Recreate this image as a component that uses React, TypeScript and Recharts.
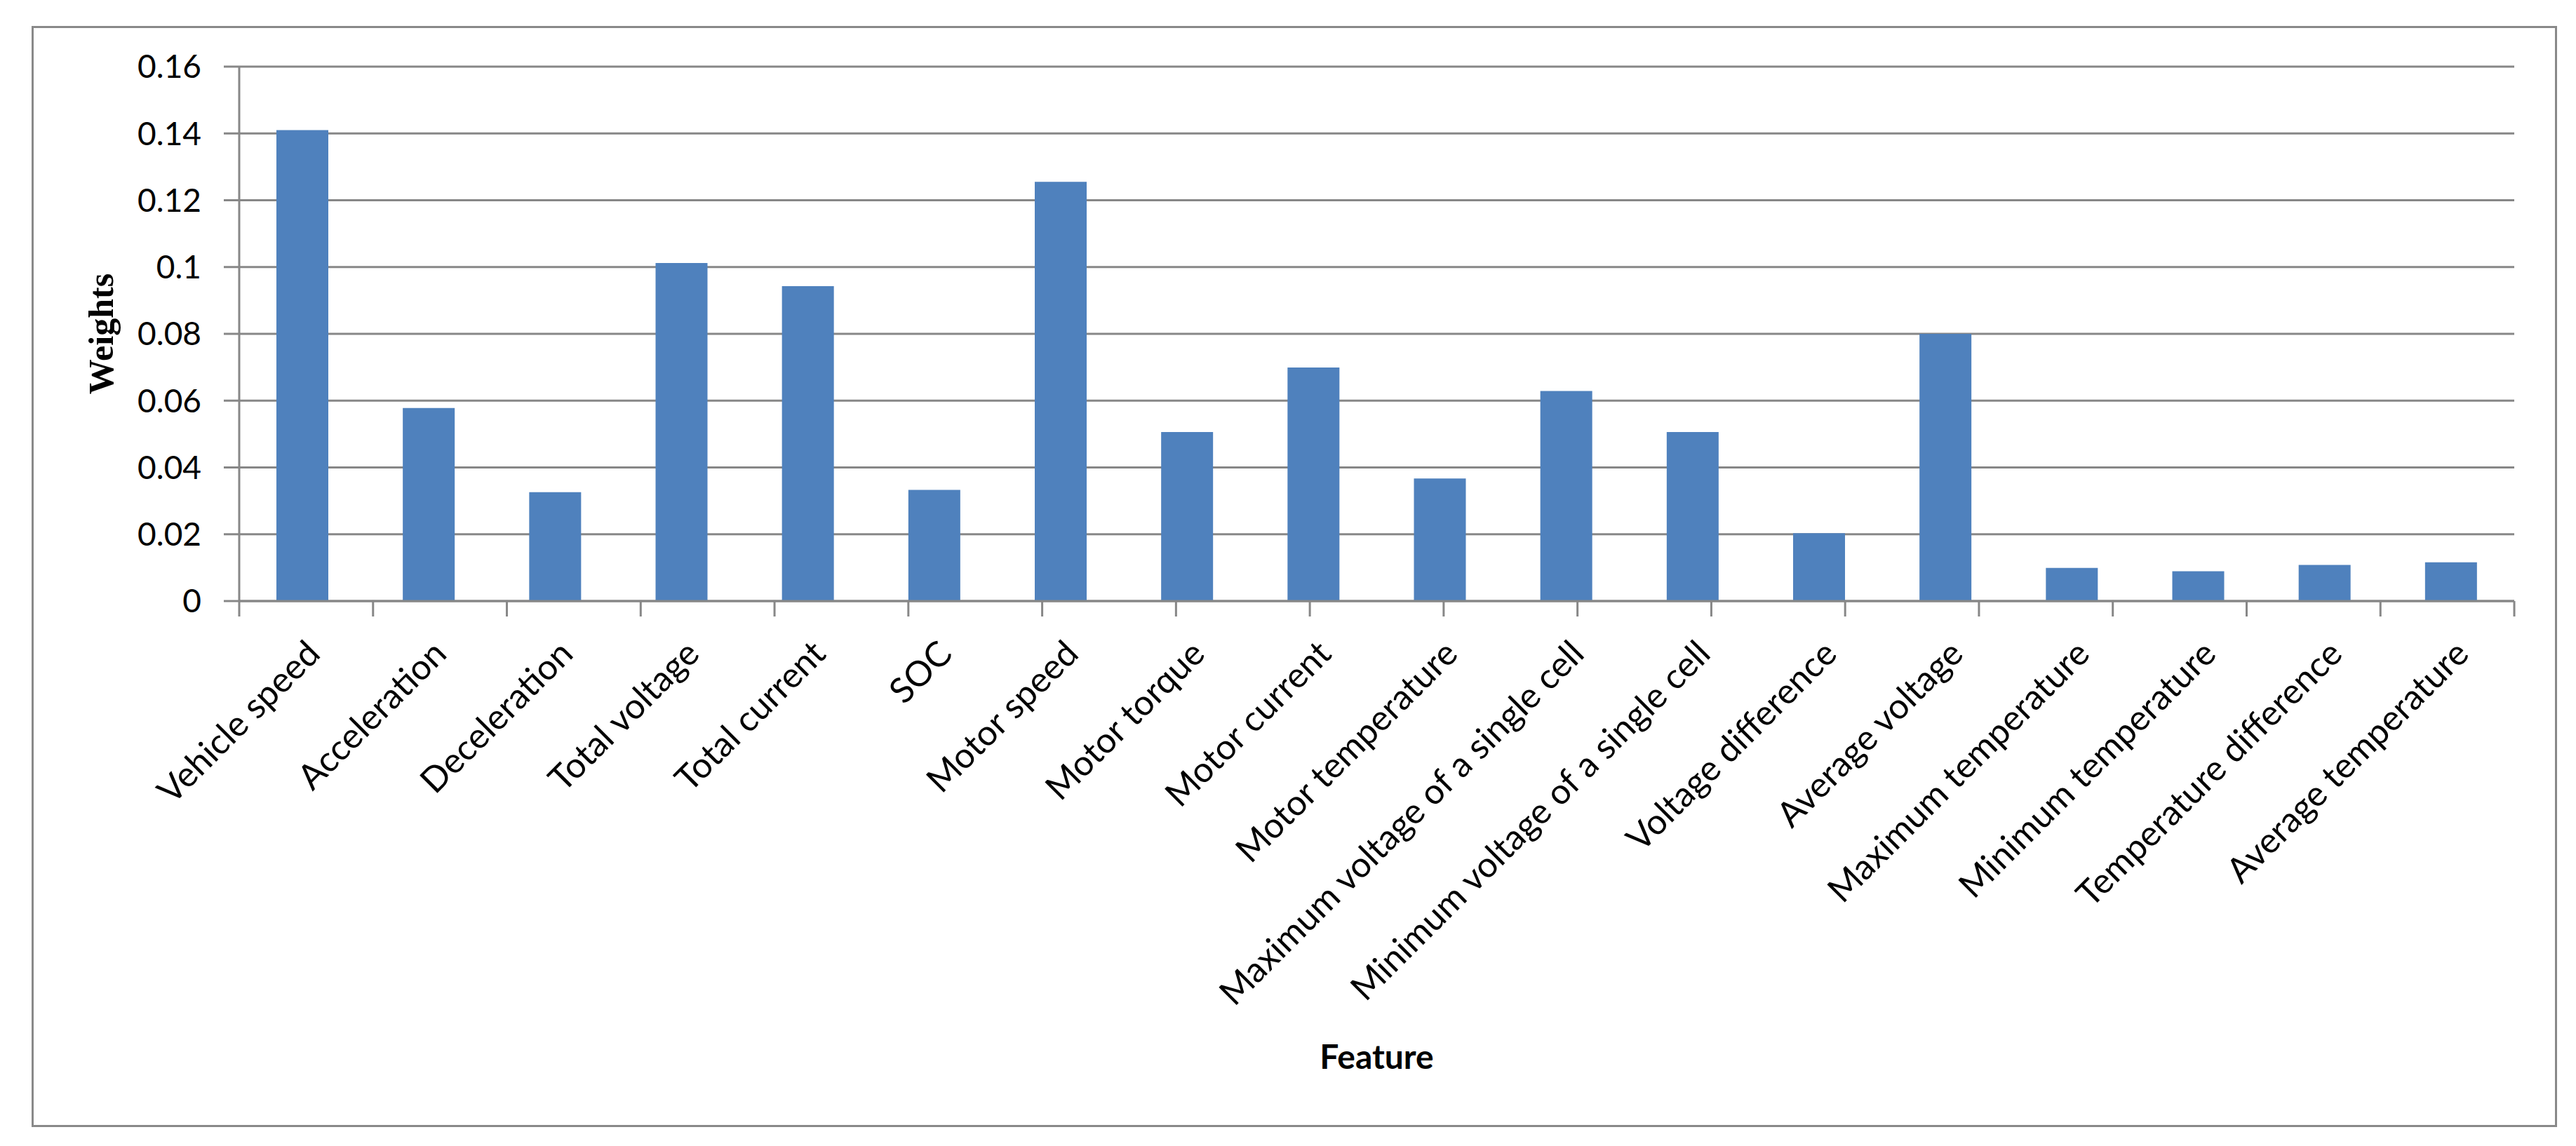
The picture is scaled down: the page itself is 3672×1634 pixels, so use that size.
import React from "react";
import { Bar, BarChart, CartesianGrid, XAxis, YAxis } from "recharts";

const features = [
  "Vehicle speed",
  "Acceleration",
  "Deceleration",
  "Total voltage",
  "Total current",
  "SOC",
  "Motor speed",
  "Motor torque",
  "Motor current",
  "Motor temperature",
  "Maximum voltage of a single cell",
  "Minimum voltage of a single cell",
  "Voltage difference",
  "Average voltage",
  "Maximum temperature",
  "Minimum temperature",
  "Temperature difference",
  "Average temperature",
];

const weights = [
  0.141, 0.0578, 0.0326, 0.1012, 0.0943, 0.0333, 0.1255, 0.0506, 0.0699,
  0.0367, 0.0629, 0.0506, 0.0203, 0.08, 0.0099, 0.0089, 0.0108, 0.0116,
];

const yTicks = [0, 0.02, 0.04, 0.06, 0.08, 0.1, 0.12, 0.14, 0.16];

const data = features.map((feature, i) => ({ feature, weight: weights[i] }));
// category boundaries for the Excel-style tick marks
const boundaryTicks = features.map((_, i) => i).concat(features.length);

const W = 3656;
const H = 1618;
const AXIS_GRAY = "#878787";
const LABEL_FONT = "Lato, 'Open Sans', sans-serif";

function FeatureTick(props: any) {
  const { x, payload } = props;
  const ax = x + 28;
  const ay = 927;
  return (
    <text
      x={ax}
      y={ay}
      textAnchor="end"
      transform={`rotate(-45, ${ax}, ${ay})`}
      fontFamily={LABEL_FONT}
      fontSize={50}
      fill="#000"
    >
      {payload.value}
    </text>
  );
}

function FeatureTitle(props: any) {
  const { viewBox } = props;
  return (
    <text
      x={viewBox.x + viewBox.width / 2}
      y={1497}
      textAnchor="middle"
      dominantBaseline="central"
      fontFamily={LABEL_FONT}
      fontWeight="bold"
      fontSize={48}
      fill="#000"
    >
      Feature
    </text>
  );
}

function WeightsTitle(props: any) {
  const { viewBox } = props;
  const cx = 136;
  const cy = viewBox.y + viewBox.height / 2;
  return (
    <text
      x={cx}
      y={cy}
      textAnchor="middle"
      dominantBaseline="central"
      transform={`rotate(-90, ${cx}, ${cy})`}
      fontFamily="'Liberation Serif', 'Times New Roman', serif"
      fontWeight="bold"
      fontSize={50}
      fill="#000"
    >
      Weights
    </text>
  );
}

export default function App() {
  return (
    <div style={{ position: "relative", width: W, height: H, background: "#fff" }}>
      <BarChart
        width={W}
        height={H}
        data={data}
        margin={{ top: 87, right: 80, left: 0, bottom: 169 }}
      >
        <CartesianGrid
          xAxisId="b_cat"
          vertical={false}
          stroke={AXIS_GRAY}
          strokeWidth={3}
        />
        <XAxis
          xAxisId="a_grid"
          type="number"
          domain={[0, features.length]}
          allowDataOverflow
          ticks={boundaryTicks}
          height={22}
          tickSize={22}
          tick={() => <g />}
          axisLine={{ stroke: AXIS_GRAY, strokeWidth: 3 }}
          tickLine={{ stroke: AXIS_GRAY, strokeWidth: 3 }}
        />
        <XAxis
          xAxisId="b_cat"
          dataKey="feature"
          interval={0}
          height={578}
          axisLine={false}
          tickLine={false}
          tick={<FeatureTick />}
          label={<FeatureTitle />}
        />
        <YAxis
          width={333}
          domain={[0, 0.16]}
          ticks={yTicks}
          tickSize={22}
          tickMargin={32}
          tickFormatter={(v: number) => String(v)}
          tick={{ fontFamily: LABEL_FONT, fontSize: 46, fill: "#000" }}
          axisLine={{ stroke: AXIS_GRAY, strokeWidth: 3 }}
          tickLine={{ stroke: AXIS_GRAY, strokeWidth: 3 }}
          label={<WeightsTitle />}
        />
        <Bar
          xAxisId="b_cat"
          dataKey="weight"
          fill="#4f81bd"
          barSize={74}
          isAnimationActive={false}
        />
      </BarChart>
      <div
        style={{
          position: "absolute",
          left: 37,
          top: 29,
          width: 3600,
          height: 1570,
          border: "3px solid #898989",
          boxSizing: "border-box",
          pointerEvents: "none",
        }}
      />
    </div>
  );
}
